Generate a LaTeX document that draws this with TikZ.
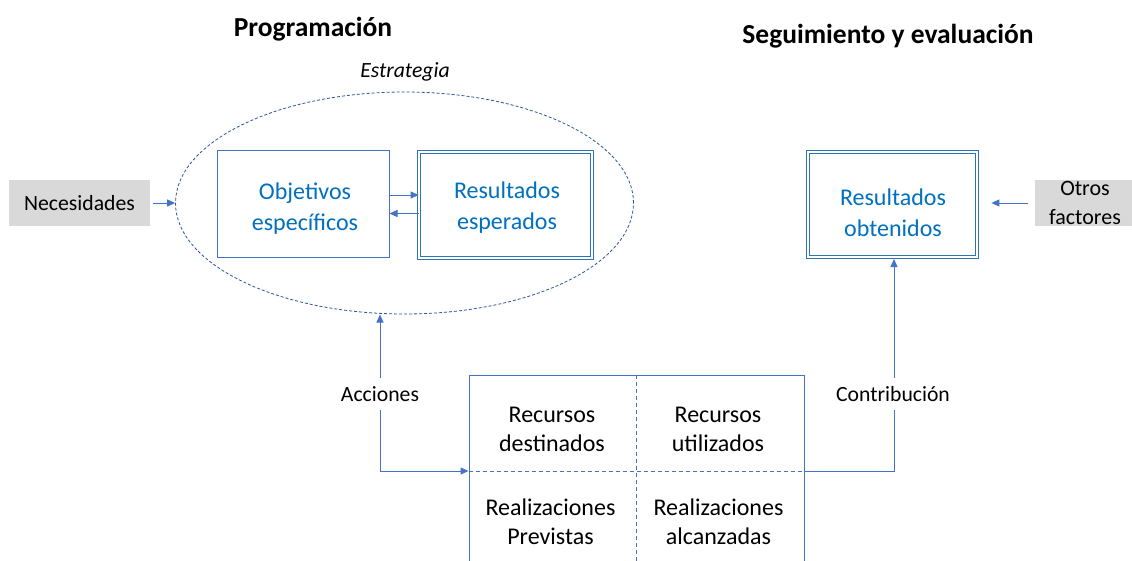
\documentclass[tikz,border=0pt]{standalone}
\usepackage{fontspec}
\setmainfont{Carlito}
\usetikzlibrary{shapes.geometric,arrows.meta,calc}
\definecolor{lineblue}{HTML}{4472C4}
\definecolor{txtblue}{HTML}{0070C0}
\definecolor{dblblue}{HTML}{2E75B6}
\definecolor{elblue}{HTML}{2F5597}
\definecolor{boxgray}{HTML}{D9D9D9}
\tikzset{
  blk/.style={font=\fontsize{21.7}{29}\selectfont, text=black, align=center},
  cell/.style={font=\fontsize{24}{29}\selectfont, text=black, align=center},
  bluetxt/.style={font=\fontsize{24}{31}\selectfont, text=txtblue, align=center},
  graybox/.style={blk, fill=boxgray, inner sep=0pt},
  singlebox/.style={draw=lineblue, line width=1pt, inner sep=0pt},
  dblbox/.style={draw=dblblue, line width=0.8pt, double=white, double distance=2pt, inner sep=0pt},
  arr/.style={draw=lineblue, line width=1pt, -{Triangle[length=8pt,width=7pt]}},
  arrb/.style={draw=lineblue, line width=1pt, {Triangle[length=8pt,width=7pt]}-{Triangle[length=8pt,width=7pt]}},
  title/.style={font=\fontsize{27.5}{32}\bfseries\selectfont},
  lbl/.style={blk, fill=white, inner xsep=2pt, inner ysep=8pt},
}
\begin{document}
\begin{tikzpicture}[x=1pt,y=-1pt]
\useasboundingbox (0,0) rectangle (1132,560);
\fill[white] (0,0) rectangle (1132,560);
% titles
\node[title] (tprog) at (313,29) {Programación};
\node[title] (tseg) at (888,36) {Seguimiento y evaluación};
\node[blk, font=\fontsize{21.7}{26}\itshape\selectfont] (testr) at (405,72) {Estrategia};
% ellipse
\node[ellipse, draw=elblue, line width=0.8pt, dash pattern=on 3pt off 2pt, minimum width=458pt, minimum height=222pt, inner sep=0pt] (est) at (404.5,203) {};
% boxes
\node[singlebox, minimum width=172pt, minimum height=107pt] (obj) at (303,203.5) {};
\node[bluetxt] (objt) at (305,209) {Objetivos\\específicos};
\node[dblbox, minimum width=173pt, minimum height=106pt] (res) at (505.5,205) {};
\node[bluetxt] (rest) at (507,208) {Resultados\\esperados};
\node[dblbox, minimum width=169pt, minimum height=105pt] (ro) at (892.5,204.5) {};
\node[bluetxt] (rot) at (893,213) {Resultados\\obtenidos};
\node[graybox, minimum width=141pt, minimum height=46pt] (nec) at (79.5,203) {Necesidades};
\node[graybox, font=\fontsize{22}{29}\selectfont, minimum width=100pt, minimum height=46pt] (otr) at (1085,203) {Otros\\factores};
% bottom grid
\node[draw=lineblue, line width=1pt, minimum width=335pt, minimum height=192pt, inner sep=0pt] (grid) at (636.5,471) {};
\draw[lineblue, line width=1pt, dash pattern=on 4pt off 3pt] (grid.north) -- (grid.south);
\draw[lineblue, line width=1pt, dash pattern=on 4pt off 3pt] (grid.west) -- (grid.east);
\node[cell] (rd) at (552,429) {Recursos\\destinados};
\node[cell] (ru) at (718,429) {Recursos\\utilizados};
\node[cell] (rp) at (550.5,522) {Realizaciones\\Previstas};
\node[cell] (ra) at (718.5,522) {Realizaciones\\alcanzadas};
% connectors
\draw[arr] ([yshift=8.5pt]obj.east) -- ([yshift=8.5pt]obj.east -| res.west);
\draw[arr] ([yshift=-8.5pt]res.west) -- ([yshift=-8.5pt]res.west -| obj.east);
\draw[arr, shorten <=3pt] (nec.east) -- (est.west);
\draw[arr, shorten <=7pt, shorten >=14pt] (otr.west) -- (otr.west -| ro.east);
\coordinate (acc) at (380,314.5);
\draw[arrb] (acc) |- (grid.west);
\coordinate (con) at (894,259);
\draw[arr] (grid.east) -| (con);
\node[lbl] (lacc) at (380,394) {Acciones};
\node[lbl] (lcon) at (893,394) {Contribución};
\end{tikzpicture}
\end{document}
